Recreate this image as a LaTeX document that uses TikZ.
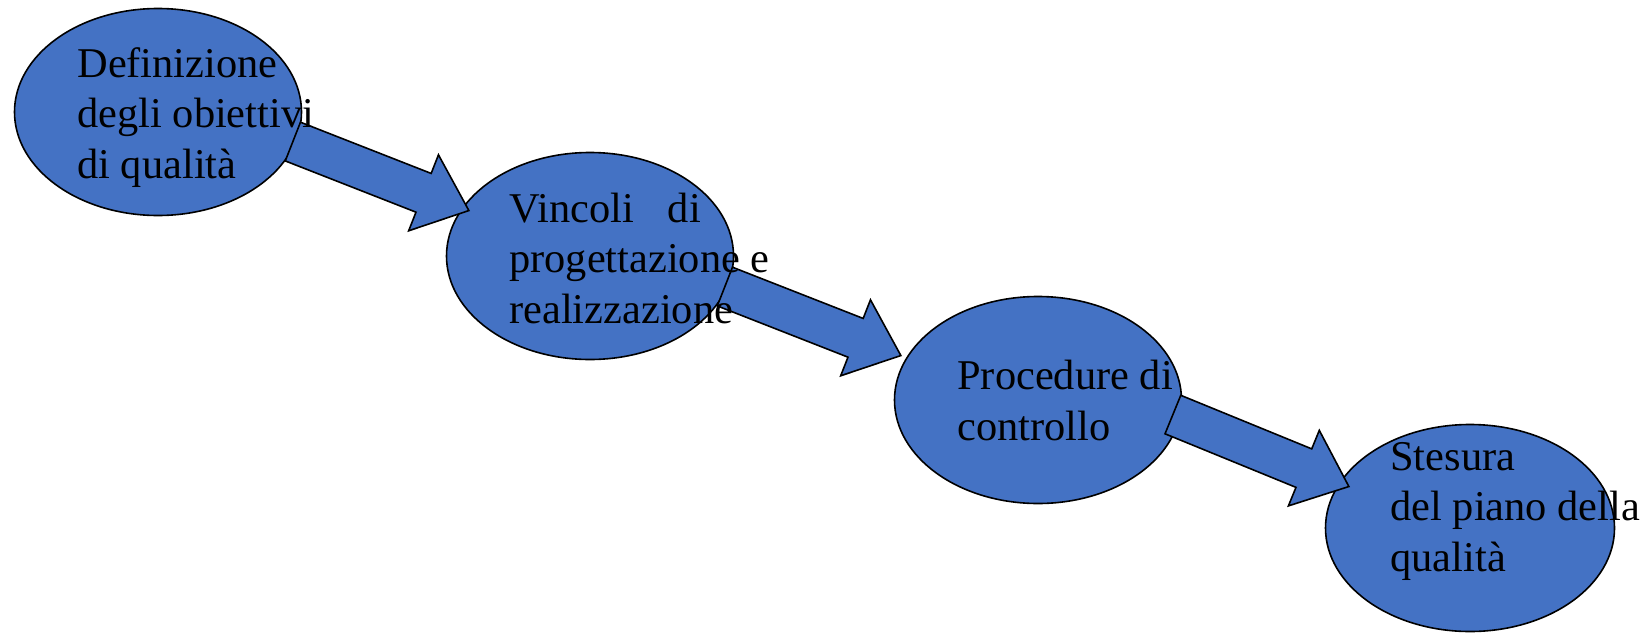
\documentclass[tikz,border=0pt]{standalone}
\usepackage{fontspec}
\setmainfont{Liberation Serif}
\usetikzlibrary{shapes.geometric,shapes.arrows,calc}
\definecolor{phaseblue}{HTML}{4472C4}
\begin{document}
\begin{tikzpicture}[x=.5pt, y=-.5pt,
	phase/.style={ellipse, draw=black, line width=.8pt, fill=phaseblue, inner sep=0pt},
	flow/.style={single arrow, draw=black, line width=.8pt, fill=phaseblue, inner xsep=0pt, inner ysep=10pt,
		minimum width=40pt, single arrow head extend=10pt, single arrow tip angle=80},
	txt/.style={anchor=base west, align=left, inner sep=0pt, font=\fontsize{21.2}{25.25}\selectfont}]
	\useasboundingbox (0,0) rectangle (1648,632);
	%ellipses
	\foreach \n/\x/\y/\w in {e1/158/112/143.5, e2/590/256/143.5, e3/1038/400/143.5, e4/1470/528/144.5}
	\node[phase, minimum width=\w pt, minimum height=103.5pt] (\n) at (\x,\y) {};
	%arrows
	\coordinate (a1s) at (294,142);
	\coordinate (a1t) at (470,211);
	\coordinate (a2s) at (726,287);
	\coordinate (a2t) at (902,356);
	\coordinate (a3s) at (1174,415);
	\coordinate (a3t) at (1350,487);
	\foreach \ar/\src/\dst in {ar1/a1s/a1t, ar2/a2s/a2t, ar3/a3s/a3t}
	\path let \p1=(\src), \p2=(\dst), \n1={atan2(\y2-\y1,\x2-\x1)}, \n2={veclen(\x2-\x1,\y2-\y1)} in
	node[flow, minimum height=\n2, rotate=\n1, anchor=tip] (\ar) at (\dst) {};
	%labels (anchored at the last baseline)
	\node[txt] (t1) at (77,178) {Definizione\\degli obiettivi\\di qualità};
	\node[txt] (t2) at (509,323) {Vincoli\hspace{0.8em}di\\progettazione e\\realizzazione};
	\node[txt] (t3) at (957,440) {Procedure di\\controllo};
	\node[txt] (t4) at (1390,571) {Stesura\\del piano della\\qualità};
\end{tikzpicture}
\end{document}
